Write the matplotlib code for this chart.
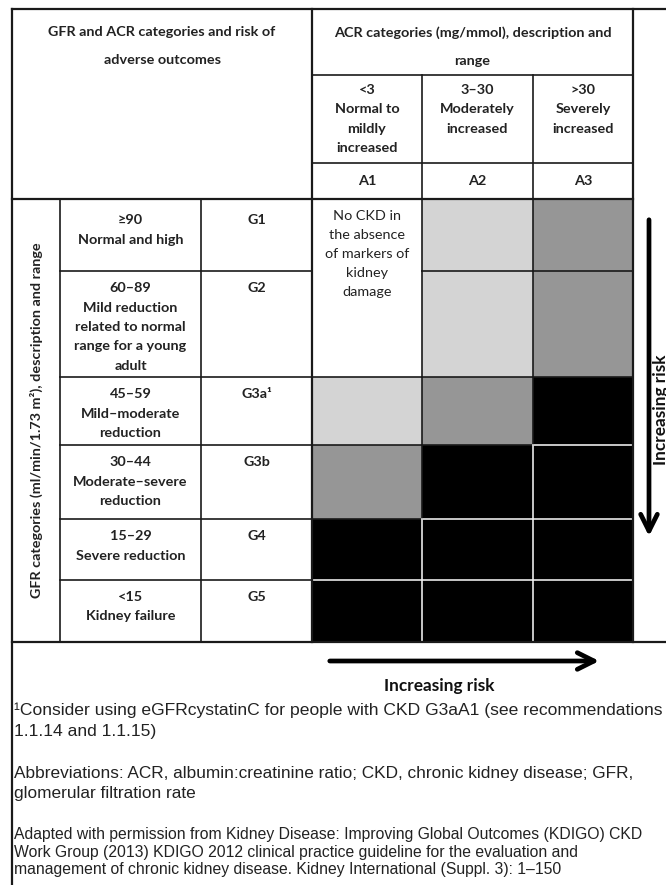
import numpy as np
import matplotlib
matplotlib.use("Agg")
import matplotlib.pyplot as plt
from matplotlib.colors import ListedColormap

# ------------------------------------------
# Data
# ------------------------------------------

acr_codes = ["A1", "A2", "A3"]
acr_labels = ["<3\nNormal to\nmildly\nincreased",
              "3\u201330\nModerately\nincreased",
              ">30\nSeverely\nincreased"]

gfr_codes = ["G1", "G2", "G3a\u00b9", "G3b", "G4", "G5"]
gfr_labels = ["\u226590\nNormal and high",
              "60\u201389\nMild reduction\nrelated to normal\nrange for a young\nadult",
              "45\u201359\nMild\u2013moderate\nreduction",
              "30\u201344\nModerate\u2013severe\nreduction",
              "15\u201329\nSevere reduction",
              "<15\nKidney failure"]

# risk level: 0 = none, 1 = low, 2 = moderate, 3 = high
risk = np.array([[0, 1, 2],
                 [0, 1, 2],
                 [1, 2, 3],
                 [2, 3, 3],
                 [3, 3, 3],
                 [3, 3, 3]])

risk_colors = ["#ffffff", "#d4d4d4", "#969696", "#000000"]

no_ckd_text = "No CKD in\nthe absence\nof markers of\nkidney\ndamage"

footnote = "\u00b9Consider using eGFRcystatinC for people with CKD G3aA1 (see recommendations\n1.1.14 and 1.1.15)"
abbrev = "Abbreviations: ACR, albumin:creatinine ratio; CKD, chronic kidney disease; GFR,\nglomerular filtration rate"
source = ("Adapted with permission from Kidney Disease: Improving Global Outcomes (KDIGO) CKD\n"
          "Work Group (2013) KDIGO 2012 clinical practice guideline for the evaluation and\n"
          "management of chronic kidney disease. Kidney International (Suppl. 3): 1\u2013150")

# ------------------------------------------
# Layout (pixels)
# ------------------------------------------

x_edges = [312, 422, 533, 633]
y_edges = [199, 271, 377, 445, 519, 580, 642]
left, top = 12, 9
col_lab, col_desc = 60, 201
head1, head2 = 75, 163

tfont = "Lato"
ffont = "Liberation Sans"
tsize = 10.4
tcol = "#222222"
lc = "#1a1a1a"
lw = 1.2

fig = plt.figure(figsize=(6.66, 8.85), dpi=100)
ax = fig.add_axes([0, 0, 1, 1])
ax.set_xlim(0, 666)
ax.set_ylim(885, 0)
ax.axis("off")

# heatmap cells
cmap = ListedColormap(risk_colors)
ax.pcolormesh(x_edges, y_edges, risk, cmap=cmap, vmin=-0.5, vmax=3.5)

# grid lines inside heatmap: white between two black cells
nr, nc = risk.shape
for i in range(1, nr):
    for j in range(nc):
        a, b = risk[i - 1, j], risk[i, j]
        if a == 0 and b == 0:
            continue
        col = "#e8e8e8" if (a == 3 and b == 3) else lc
        ax.plot([x_edges[j], x_edges[j + 1]], [y_edges[i], y_edges[i]], color=col, lw=lw)
for j in range(1, nc):
    for i in range(nr):
        a, b = risk[i, j - 1], risk[i, j]
        col = "#e8e8e8" if (a == 3 and b == 3) else lc
        ax.plot([x_edges[j], x_edges[j]], [y_edges[i], y_edges[i + 1]], color=col, lw=lw)

# frame lines
ax.plot([left, 666], [top, top], color=lc, lw=1.6)
ax.plot([left, 666], [y_edges[-1], y_edges[-1]], color=lc, lw=1.6)
ax.plot([left, left], [top, 885], color=lc, lw=1.6)
ax.plot([x_edges[-1], x_edges[-1]], [top, y_edges[-1]], color=lc, lw=1.6)
ax.plot([x_edges[0], x_edges[0]], [top, y_edges[-1]], color=lc, lw=1.6)
ax.plot([left, x_edges[-1]], [y_edges[0], y_edges[0]], color=lc, lw=1.6)
ax.plot([x_edges[0], x_edges[-1]], [head1, head1], color=lc, lw=lw)
ax.plot([x_edges[0], x_edges[-1]], [head2, head2], color=lc, lw=lw)
for x in x_edges[1:-1]:
    ax.plot([x, x], [head1, y_edges[0]], color=lc, lw=lw)
ax.plot([col_lab, col_lab], [y_edges[0], y_edges[-1]], color=lc, lw=lw)
ax.plot([col_desc, col_desc], [y_edges[0], y_edges[-1]], color=lc, lw=lw)
for y in y_edges[1:-1]:
    ax.plot([col_lab, x_edges[0]], [y, y], color=lc, lw=lw)

# ------------------------------------------
# Table text
# ------------------------------------------

ax.text((left + x_edges[0]) / 2, 26, "GFR and ACR categories and risk of\nadverse outcomes",
        ha="center", va="top", fontsize=tsize, fontweight="bold", family=tfont,
        linespacing=2.6, color=tcol)
ax.text((x_edges[0] + x_edges[-1]) / 2, 26, "ACR categories (mg/mmol), description and\nrange",
        ha="center", va="top", fontsize=tsize, fontweight="bold", family=tfont,
        linespacing=2.6, color=tcol)

for j in range(nc):
    xc = (x_edges[j] + x_edges[j + 1]) / 2
    ax.text(xc, 84, acr_labels[j], ha="center", va="top", fontsize=tsize,
            fontweight="bold", family=tfont, linespacing=1.73, color=tcol)
    ax.text(xc, (head2 + y_edges[0]) / 2, acr_codes[j], ha="center", va="center",
            fontsize=tsize, fontweight="bold", family=tfont, color=tcol)

for i in range(nr):
    y0 = y_edges[i] + (15 if i == 0 else 11)
    ax.text((col_lab + col_desc) / 2, y0, gfr_labels[i], ha="center", va="top",
            fontsize=tsize, fontweight="bold", family=tfont, linespacing=1.75, color=tcol)
    ax.text((col_desc + x_edges[0]) / 2, y0, gfr_codes[i], ha="center", va="top",
            fontsize=tsize, fontweight="bold", family=tfont, color=tcol)

ax.text((x_edges[0] + x_edges[1]) / 2, 210, no_ckd_text, ha="center", va="top",
        fontsize=tsize, family=tfont, linespacing=1.7, color=tcol)

ax.text((left + col_lab) / 2, (y_edges[0] + y_edges[-1]) / 2,
        "GFR categories (ml/min/1.73 m\u00b2), description and range",
        ha="center", va="center", rotation=90, fontsize=tsize, fontweight="bold",
        family=tfont, color=tcol)

# ------------------------------------------
# Arrows
# ------------------------------------------

astyle = "->,head_length=1.2,head_width=0.6"
ax.annotate("", xy=(602, 661), xytext=(327, 661),
            arrowprops=dict(arrowstyle=astyle, lw=3.4, color="black"))
ax.text(439, 686, "Increasing risk", ha="center", va="center", fontsize=12.4,
        fontweight="bold", family=tfont, color="#111111")

ax.annotate("", xy=(649, 539), xytext=(649, 217),
            arrowprops=dict(arrowstyle=astyle, lw=3.4, color="black"))
ax.text(661, 410, "Increasing risk", ha="center", va="center", rotation=90, fontsize=12.4,
        fontweight="bold", family=tfont, color="#111111")

# ------------------------------------------
# Footer
# ------------------------------------------

ax.text(14, 703, footnote, ha="left", va="top", fontsize=12.6, family=ffont,
        linespacing=1.42, color=tcol)
ax.text(14, 766, abbrev, ha="left", va="top", fontsize=12.4, family=ffont,
        linespacing=1.42, color=tcol)
ax.text(14, 827, source, ha="left", va="top", fontsize=11.3, family=ffont,
        linespacing=1.22, color=tcol)

fig.savefig("out.png", dpi=100)
